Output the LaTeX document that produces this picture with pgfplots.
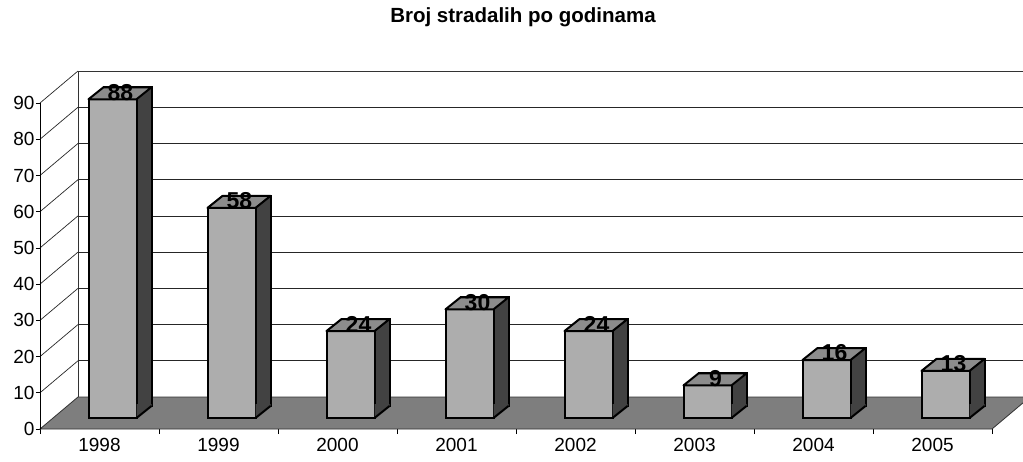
\documentclass[border=0pt]{standalone}
\usepackage{pgfplots}
\usepackage{pgfplotstable}
\pgfplotsset{compat=1.18}
\usepackage{fontspec}
\setmainfont{Liberation Sans}
\definecolor{frontc}{HTML}{ADADAD}
\definecolor{sidec}{HTML}{424242}
\definecolor{topc}{HTML}{8C8C8C}
\definecolor{floorc}{HTML}{7E7E7E}
\pgfdeclareplotmark{topface}{%
 \pgfpathmoveto{\pgfpoint{-11pt}{11pt}}%
 \pgfpathlineto{\pgfpoint{37pt}{11pt}}%
 \pgfpathlineto{\pgfpoint{52pt}{23pt}}%
 \pgfpathlineto{\pgfpoint{4pt}{23pt}}%
 \pgfpathclose
 \pgfusepathqfillstroke}
\pgfdeclareplotmark{sidebottom}{%
 \pgfpathmoveto{\pgfpoint{37pt}{11pt}}%
 \pgfpathlineto{\pgfpoint{52pt}{23pt}}%
 \pgfpathlineto{\pgfpoint{52pt}{25pt}}%
 \pgfpathlineto{\pgfpoint{37pt}{25pt}}%
 \pgfpathclose
 \pgfusepathqfill
 \pgfpathmoveto{\pgfpoint{37pt}{11pt}}%
 \pgfpathlineto{\pgfpoint{52pt}{23pt}}%
 \pgfusepathqstroke}
\pgfplotstableread{
x v
0 88
1 58
2 24
3 30
4 24
5 9
6 16
7 13
}\datatable
\newcommand{\grid}[1]{\addplot[black!85, line width=0.7pt] coordinates {(-0.181,#1) (7.819,#1)};}
\newcommand{\diag}[2]{\addplot[black!85, line width=0.7pt] coordinates {(-0.5,#1) (-0.181,#2)};}
\begin{document}
\begin{tikzpicture}
\path[use as bounding box] (0,0) rectangle (1023pt,461pt);
\begin{axis}[
 at={(40pt,32pt)}, anchor=south west,
 scale only axis, x=119pt, y=3.622pt,
 xmin=-0.5, xmax=7.819, ymin=0, ymax=98.83,
 clip=false,
 axis line style={draw=none},
 tick pos=left, tick align=outside,
 major tick length=0pt,
 xtick={0,1,2,3,4,5,6,7},
 xticklabels={1998,1999,2000,2001,2002,2003,2004,2005},
 ytick={0,10,20,30,40,50,60,70,80,90},
 extra x ticks={-0.5,0.5,1.5,2.5,3.5,4.5,5.5,6.5,7.5},
 extra x tick labels={},
 extra x tick style={grid=none, major tick length=5pt, tick style={black, line width=0.8pt}},
 extra y ticks={0,10,20,30,40,50,60,70,80,90},
 extra y tick labels={},
 extra y tick style={grid=none, major tick length=4pt, tick style={black, line width=0.8pt}},
 ticklabel style={font=\fontsize{19}{21}\selectfont},
 yticklabel style={xshift=-2pt},
 xticklabel style={yshift=-6pt},
 /pgf/number format/assume math mode=true,
]
% back wall
\addplot[fill=white, draw=black!80, line width=0.8pt] coordinates {(-0.181,8.83) (7.819,8.83) (7.819,98.83) (-0.181,98.83)} -- cycle;
\grid{18.83}\grid{28.83}\grid{38.83}\grid{48.83}\grid{58.83}\grid{68.83}\grid{78.83}\grid{88.83}
\diag{10}{18.83}\diag{20}{28.83}\diag{30}{38.83}\diag{40}{48.83}\diag{50}{58.83}\diag{60}{68.83}\diag{70}{78.83}\diag{80}{88.83}\diag{90}{98.83}
% floor
\addplot[fill=floorc, draw=black!80, line width=0.8pt] coordinates {(-0.5,0) (7.5,0) (7.819,8.83) (-0.181,8.83)} -- cycle;
% front y axis
\addplot[black, line width=1pt] coordinates {(-0.5,0) (-0.5,90)};
% bars
\addplot[ybar, bar width=48pt, bar shift=28pt, yshift=23pt, fill=sidec, draw=black, line width=2pt] table[x=x,y=v]{\datatable};
\addplot[only marks, mark=sidebottom, mark options={fill=sidec, draw=black, line width=2pt}] table[x=x, y expr=0]{\datatable};
\addplot[only marks, mark=topface, mark options={fill=topc, draw=black, line width=2pt, line join=round}] table[x=x,y=v]{\datatable};
\addplot[ybar, bar width=48pt, bar shift=13pt, yshift=11pt, fill=frontc, draw=black, line width=2pt] table[x=x,y=v]{\datatable};
\addplot[draw=none, mark=none, nodes near coords, every node near coord/.append style={anchor=center, xshift=21pt, yshift=18pt, font=\bfseries\fontsize{23}{26}\selectfont}] table[x=x,y=v]{\datatable};
\end{axis}
\node[font=\bfseries\fontsize{20.5}{24}\selectfont] at (523pt,444pt) {Broj stradalih po godinama};
\end{tikzpicture}
\end{document}
